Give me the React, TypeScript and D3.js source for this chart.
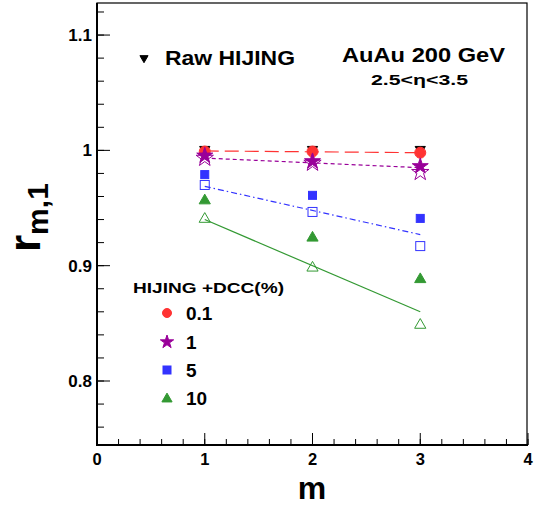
import React from "react";
import * as d3 from "d3";

const mValues = [1, 2, 3];
const rawHijing = [1.0, 1.0, 1.0];
const dcc01Filled = [0.999, 0.999, 0.998];
const dcc01Open = [0.999, 0.999, 0.998];
const dcc01Fit = [0.9995, 0.998];
const dcc1Filled = [0.9954, 0.9905, 0.9862];
const dcc1Open = [0.9933, 0.989, 0.981];
const dcc1Fit = [0.9933, 0.985];
const dcc5Filled = [0.979, 0.961, 0.941];
const dcc5Open = [0.97, 0.9466, 0.917];
const dcc5Fit = [0.9688, 0.927];
const dcc10Filled = [0.9573, 0.925, 0.889];
const dcc10Open = [0.9413, 0.899, 0.8494];
const dcc10Fit = [0.94, 0.86];
const fitRange = [1, 3];
const xTicks = [0, 1, 2, 3, 4];
const yTicks = [0.8, 0.9, 1.0, 1.1];
const yTickLabels = ["0.8", "0.9", "1", "1.1"];
const legendLabels = ["0.1", "1", "5", "10"];

const FONT = "'Liberation Sans', Arial, Helvetica, sans-serif";
const RED = "#ff3333";
const PURPLE = "#990099";
const BLUE = "#3333ff";
const GREEN = "#339933";

const x = d3.scaleLinear().domain([0, 4]).range([97, 528]);
const y = d3.scaleLinear().domain([0.7445, 1.1278]).range([445, 3]);

const starPath = d3.symbol().type(d3.symbolStar);
const triPath = d3.symbol().type(d3.symbolTriangle);

function Marker({ kind, cx, cy, color, filled, size }: any) {
  const fo = filled ? 1 : 0;
  const sw = 1;
  if (kind === "circle")
    return <circle cx={cx} cy={cy} r={size} fill={color} fillOpacity={fo} stroke={color} strokeWidth={sw} />;
  if (kind === "square")
    return <rect x={cx - size} y={cy - size} width={2 * size} height={2 * size} fill={color} fillOpacity={fo} stroke={color} strokeWidth={sw} />;
  if (kind === "star")
    return <path d={starPath.size(size * size * 2.2)() || ""} transform={`translate(${cx},${cy})`} fill={color} fillOpacity={fo} stroke={color} strokeWidth={sw} />;
  if (kind === "tri")
    return <path d={triPath.size(size * size * 1.8)() || ""} transform={`translate(${cx},${cy + 1})`} fill={color} fillOpacity={fo} stroke={color} strokeWidth={sw} />;
  if (kind === "down")
    return <path d={triPath.size(size * size * 1.8)() || ""} transform={`translate(${cx},${cy - 1}) rotate(180)`} fill={color} stroke={color} strokeWidth={sw} />;
  return null;
}

function Series({ vals, kind, color, filled, size }: any) {
  return (
    <g>
      {vals.map((v: number, i: number) => (
        <Marker key={i} kind={kind} cx={x(mValues[i])} cy={y(v)} color={color} filled={filled} size={size} />
      ))}
    </g>
  );
}

function Fit({ vals, color, dash }: any) {
  return (
    <line x1={x(fitRange[0])} x2={x(fitRange[1])} y1={y(vals[0])} y2={y(vals[1])} stroke={color} strokeWidth={1.2} strokeDasharray={dash} />
  );
}

export default function App() {
  const yMinor = d3.range(0.76, 1.121, 0.02);
  const xMinor = d3.range(0, 4.001, 0.2);
  const legendKinds = ["circle", "star", "square", "tri"];
  const legendColors = [RED, PURPLE, BLUE, GREEN];
  const legendSizes = [4.5, 5, 4, 5];
  const legendY = [313, 342, 370, 398];
  return (
    <svg width={541} height={506} style={{ position: "absolute", left: 0, top: 0, background: "white" }} fontFamily={FONT}>
      <rect x={0} y={0} width={541} height={506} fill="white" />
      {/* frame */}
      <rect x={97} y={3} width={430} height={442} fill="none" stroke="black" strokeWidth={1.2} />
      <line x1={97} x2={97} y1={3} y2={446} stroke="black" strokeWidth={2} />
      <line x1={96} x2={528} y1={445} y2={445} stroke="black" strokeWidth={2} />
      {/* y ticks */}
      {yMinor.map((v, i) => (
        <line key={"ym" + i} x1={97} x2={104} y1={y(v)} y2={y(v)} stroke="black" strokeWidth={1} />
      ))}
      {yTicks.map((v, i) => (
        <g key={"yt" + i}>
          <line x1={97} x2={110} y1={y(v)} y2={y(v)} stroke="black" strokeWidth={1} />
          <text x={92} y={y(v) + 6} textAnchor="end" fontSize={17} fontWeight="bold">{yTickLabels[i]}</text>
        </g>
      ))}
      {/* x ticks */}
      {xMinor.map((v, i) => (
        <line key={"xm" + i} x1={x(v)} x2={x(v)} y1={445} y2={439} stroke="black" strokeWidth={1} />
      ))}
      {xTicks.map((v, i) => (
        <g key={"xt" + i}>
          <line x1={x(v)} x2={x(v)} y1={445} y2={433} stroke="black" strokeWidth={1} />
          <text x={x(v)} y={465} textAnchor="middle" fontSize={16.5} fontWeight="bold">{v}</text>
        </g>
      ))}
      {/* axis titles */}
      <text x={312} y={499} textAnchor="middle" fontSize={32} fontWeight="bold">m</text>
      <text transform="translate(40,252) rotate(-90)" fontSize={44} fontWeight="bold">
        r<tspan fontSize={30} dy={8}>m,1</tspan>
      </text>
      {/* fits */}
      <Fit vals={dcc10Fit} color={GREEN} dash="none" />
      <Fit vals={dcc5Fit} color={BLUE} dash="6,3,1.5,3" />
      <Fit vals={dcc1Fit} color={PURPLE} dash="4,3" />
      <Fit vals={dcc01Fit} color={RED} dash="14,6" />
      {/* markers */}
      <Series vals={rawHijing} kind="down" color="black" filled size={5} />
      <Series vals={dcc01Filled} kind="circle" color={RED} filled size={5} />
      <Series vals={dcc01Open} kind="circle" color={RED} filled={false} size={5.5} />
      <Series vals={dcc1Open} kind="star" color={PURPLE} filled={false} size={6.5} />
      <Series vals={dcc1Filled} kind="star" color={PURPLE} filled size={6} />
      <Series vals={dcc5Filled} kind="square" color={BLUE} filled size={4} />
      <Series vals={dcc5Open} kind="square" color={BLUE} filled={false} size={4.5} />
      <Series vals={dcc10Filled} kind="tri" color={GREEN} filled size={5.5} />
      <Series vals={dcc10Open} kind="tri" color={GREEN} filled={false} size={5.5} />
      {/* texts */}
      <Marker kind="down" cx={144} cy={59} color="black" filled size={4} />
      <text x={165} y={65} fontSize={19.5} fontWeight="bold" textLength={130} lengthAdjust="spacingAndGlyphs">Raw HIJING</text>
      <text x={342} y={62} fontSize={19.5} fontWeight="bold" textLength={163} lengthAdjust="spacingAndGlyphs">AuAu 200 GeV</text>
      <text x={371} y={85} fontSize={15} fontWeight="bold" textLength={97} lengthAdjust="spacingAndGlyphs">2.5&lt;η&lt;3.5</text>
      {/* legend */}
      <text x={133} y={293} fontSize={15.5} fontWeight="bold" textLength={151} lengthAdjust="spacingAndGlyphs">HIJING +DCC(%)</text>
      {legendLabels.map((l, i) => (
        <g key={"lg" + i}>
          <Marker kind={legendKinds[i]} cx={167} cy={legendY[i]} color={legendColors[i]} filled size={legendSizes[i]} />
          <text x={186} y={legendY[i] + 7} fontSize={19} fontWeight="bold">{l}</text>
        </g>
      ))}
    </svg>
  );
}
